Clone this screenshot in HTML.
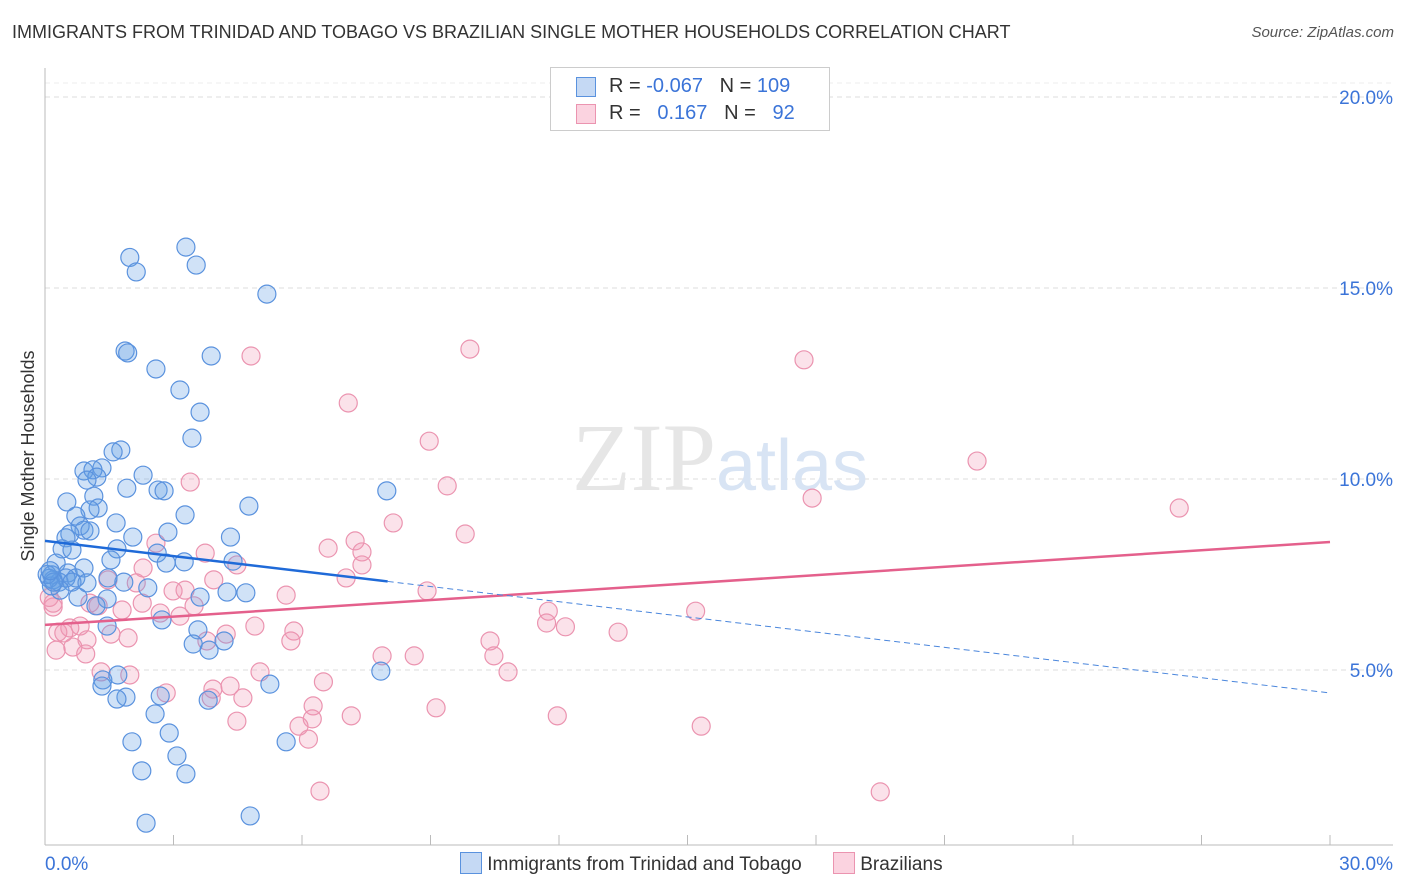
<!DOCTYPE html>
<html><head><meta charset="utf-8"><style>
body{margin:0;background:#fff;font-family:"Liberation Sans",sans-serif}
#wrap{position:relative;width:1406px;height:892px;overflow:hidden}
.title{position:absolute;left:12px;top:22px;font-size:18px;color:#333}
.src{position:absolute;right:12px;top:24px;font-size:15px;color:#555;font-style:italic}
</style></head><body>
<div id="wrap">
<div class="title">IMMIGRANTS FROM TRINIDAD AND TOBAGO VS BRAZILIAN SINGLE MOTHER HOUSEHOLDS CORRELATION CHART</div>
<div class="src">Source: ZipAtlas.com</div>
<svg id="svg" width="1406" height="892" style="position:absolute;left:0;top:0"></svg>
</div>
<script>
const xTicks=[0,3,6,9,12,15,18,21,24,27,30];
const yTicks=[5,10,15,20];
const yTickLabels=["5.0%","10.0%","15.0%","20.0%"];
const blueX=[1.98,2.13,3.29,3.53,5.18,1.87,1.93,3.88,2.59,3.15,3.62,3.43,1.77,1.59,0.91,1.33,1.12,2.29,1.21,0.98,1.91,2.64,2.78,7.98,1.14,0.51,4.76,1.24,1.05,0.72,3.27,1.66,0.82,0.91,0.58,1.05,2.87,0.49,2.05,4.33,0.40,1.68,2.62,0.63,1.54,4.39,0.26,3.25,2.83,0.16,0.54,0.91,0.19,0.33,0.72,0.49,0.63,1.84,0.98,0.35,1.47,2.40,4.25,4.69,3.62,0.77,1.45,2.73,1.19,1.45,3.57,3.46,4.18,3.83,1.70,1.35,1.33,7.84,5.25,1.89,1.68,2.69,3.81,2.57,2.90,2.03,5.63,3.08,2.26,3.29,2.36,4.79,0.1,0.15,0.05,0.2,0.12];
const blueY=[15.80,15.42,16.07,15.60,14.84,13.35,13.30,13.22,12.88,12.33,11.75,11.07,10.76,10.71,10.21,10.29,10.24,10.10,10.05,9.97,9.76,9.71,9.69,9.69,9.55,9.40,9.29,9.24,9.19,9.03,9.06,8.85,8.77,8.66,8.56,8.64,8.61,8.46,8.48,8.48,8.17,8.17,8.06,8.14,7.88,7.85,7.80,7.83,7.80,7.49,7.54,7.67,7.36,7.30,7.41,7.41,7.30,7.30,7.28,7.09,7.41,7.15,7.04,7.02,6.91,6.91,6.86,6.31,6.68,6.15,6.05,5.68,5.76,5.52,4.87,4.74,4.58,4.97,4.63,4.29,4.24,4.32,4.21,3.85,3.35,3.12,3.12,2.75,2.36,2.28,0.99,1.18,7.4,7.2,7.5,7.3,7.6];
const pinkX=[4.81,9.92,17.72,7.08,8.97,21.76,9.39,17.91,3.39,26.48,8.13,9.81,2.59,7.24,6.61,7.40,3.74,4.48,7.40,2.29,7.03,3.94,1.47,2.13,5.63,8.92,2.99,3.27,3.48,2.27,1.24,1.80,2.69,3.15,11.75,15.19,11.71,12.15,13.38,0.19,1.05,0.58,0.82,1.54,0.98,0.30,0.44,0.65,0.95,1.94,4.90,5.81,5.74,4.23,3.78,10.39,10.48,8.62,10.81,7.87,1.31,1.98,5.02,6.50,2.83,3.92,4.32,4.62,3.88,6.26,9.13,7.15,11.96,6.24,4.48,5.93,6.15,15.32,6.42,19.50,0.19,0.1,0.26];
const pinkY=[13.22,13.40,13.12,11.99,10.99,10.47,9.82,9.50,9.92,9.24,8.85,8.56,8.32,8.38,8.19,8.09,8.06,7.75,7.75,7.67,7.41,7.36,7.36,7.28,6.96,7.07,7.07,7.09,6.68,6.75,6.68,6.57,6.49,6.41,6.54,6.54,6.23,6.13,5.99,6.65,6.75,6.10,6.15,5.94,5.79,5.99,5.97,5.60,5.42,5.84,6.15,6.02,5.76,5.94,5.76,5.76,5.37,5.37,4.95,5.37,4.95,4.87,4.95,4.69,4.40,4.50,4.58,4.27,4.27,4.06,4.01,3.80,3.80,3.72,3.66,3.53,3.19,3.53,1.83,1.81,6.75,6.9,5.52];
const blueTrend=[8.38,-0.1327];
const pinkTrend=[6.18,0.0724];
const X=v=>45+v/30*1285, Y=v=>861-v*38.2;
const svg=document.getElementById('svg');const NS='http://www.w3.org/2000/svg';
function add(tag,a,p){const e=document.createElementNS(NS,tag);for(const k in a)e.setAttribute(k,a[k]);(p||svg).appendChild(e);return e;}
yTicks.forEach((t,i)=>{
 const g=add('line',{x1:45,x2:1393,y1:Y(t),y2:Y(t),stroke:'#ddd','stroke-dasharray':'5,4'});
 
 
 const l=add('text',{x:1393,y:Y(t)+7,'text-anchor':'end','font-size':19,fill:'#3b74d8'});l.textContent=yTickLabels[i];
 
 
});
add('line',{x1:45,x2:1393,y1:Y(20)-14,y2:Y(20)-14,stroke:'#eee','stroke-dasharray':'5,4'});
add('line',{x1:45,x2:45,y1:68,y2:845,stroke:'#bbb'});
add('line',{x1:45,x2:1393,y1:845,y2:845,stroke:'#bbb'});
xTicks.forEach(t=>{const k=add('line',{x1:X(t),x2:X(t),y1:845,y2:835,stroke:'#bbb'});
 
 });
const x0=add('text',{x:45,y:870,'font-size':19,fill:'#3b74d8'});x0.textContent='0.0%';
const x1=add('text',{x:1393,y:870,'text-anchor':'end','font-size':19,fill:'#3b74d8'});x1.textContent='30.0%';
const yt=add('text',{x:34,y:456,'font-size':18,fill:'#333',transform:'rotate(-90 34 456)','text-anchor':'middle'});yt.textContent='Single Mother Households';


const wm=add('text',{x:720,y:490,'text-anchor':'middle','font-size':96,fill:'#e6e6e6','font-family':'Liberation Serif'});wm.innerHTML='ZIP<tspan fill="#d8e4f4" font-family="Liberation Sans" font-size="72">atlas</tspan>';
function pts(xs,ys,fill,stroke,name){xs.forEach((x,i)=>{const c=add('circle',{cx:X(x),cy:Y(ys[i]),r:9,fill:fill,stroke:stroke,'stroke-width':1.2});
 
 });}
pts(pinkX,pinkY,'rgba(240,150,180,0.28)','#eb94b0','brazilian-point');
pts(blueX,blueY,'rgba(100,160,230,0.3)','#5a92de','trinidad-point');
add('line',{x1:X(0),y1:Y(pinkTrend[0]),x2:X(30),y2:Y(pinkTrend[0]+30*pinkTrend[1]),stroke:'#e4608c','stroke-width':2.5});
add('line',{x1:X(0),y1:Y(blueTrend[0]),x2:X(8),y2:Y(blueTrend[0]+8*blueTrend[1]),stroke:'#1f6ad8','stroke-width':2.5});
add('line',{x1:X(8),y1:Y(blueTrend[0]+8*blueTrend[1]),x2:X(30),y2:Y(blueTrend[0]+30*blueTrend[1]),stroke:'#4a86dc','stroke-width':1,'stroke-dasharray':'6,4'});
</script>
<div style="position:absolute;left:550px;top:67px;width:278px;height:62px;border:1px solid #ccc;background:#fff;font-size:20px;color:#333">
<div style="position:absolute;left:25px;top:9px;width:18px;height:18px;background:#c5d9f4;border:1px solid #5a92de"></div>
<div style="position:absolute;left:58px;top:7px">R = <span style="color:#3b74d8">-0.067</span>&nbsp;&nbsp;&nbsp;N = <span style="color:#3b74d8">109</span></div>
<div style="position:absolute;left:25px;top:36px;width:18px;height:18px;background:#fbd3e0;border:1px solid #eb94b0"></div>
<div style="position:absolute;left:58px;top:34px">R = &nbsp;&nbsp;<span style="color:#3b74d8">0.167</span>&nbsp;&nbsp;&nbsp;N = &nbsp;&nbsp;<span style="color:#3b74d8">92</span></div>
</div>
<div style="position:absolute;left:460px;top:852px;font-size:19px;color:#333;white-space:nowrap">
<span style="display:inline-block;width:20px;height:20px;background:#c5d9f4;border:1px solid #5a92de;vertical-align:-4px"></span> Immigrants from Trinidad and Tobago
<span style="display:inline-block;width:20px;height:20px;background:#fbd3e0;border:1px solid #eb94b0;vertical-align:-4px;margin-left:26px"></span> Brazilians
</div>
</body></html>
